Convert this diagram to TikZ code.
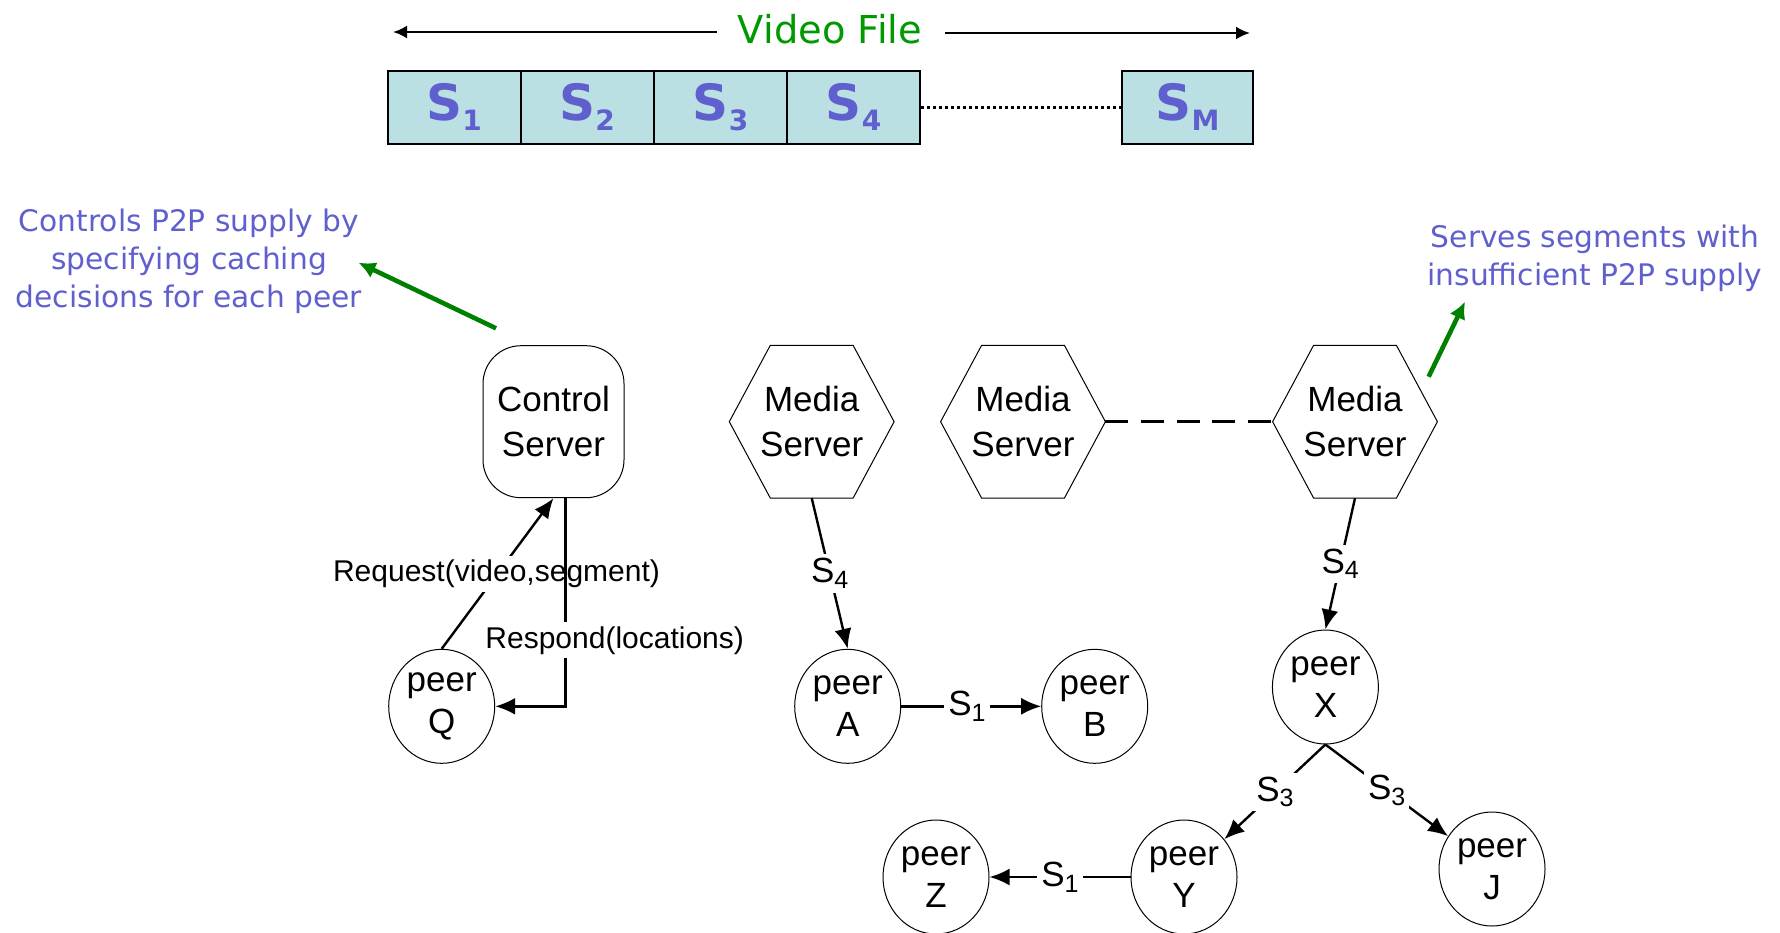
\documentclass[tikz,border=0pt]{standalone}
\usepackage{fontspec}
\setmainfont{Liberation Sans}
\newfontfamily\bluefont{DejaVu Sans}
\usetikzlibrary{shapes.geometric,arrows.meta,calc}

\definecolor{bluetxt}{RGB}{95,95,205}
\definecolor{greentxt}{RGB}{0,153,0}
\definecolor{greenarr}{RGB}{0,128,0}
\definecolor{segfill}{RGB}{187,224,227}

\newcommand\lowsub[1]{\raisebox{-0.32ex}{\fontsize{12.5pt}{12.5pt}\selectfont #1}}
\newcommand\segtxt[1]{{\bluefont\bfseries\fontsize{25pt}{25pt}\selectfont S\raisebox{-5pt}{\fontsize{14pt}{14pt}\selectfont #1}}}
\newcommand\hexdraw[1]{\draw[hexline] (#1.west) -- ([xshift=20.5pt]#1.north west) -- ([xshift=-20.5pt]#1.north east) -- (#1.east) -- ([xshift=-20.5pt]#1.south east) -- ([xshift=20.5pt]#1.south west) -- cycle;}

\begin{document}
\begin{tikzpicture}[x=0.5pt,y=-0.5pt,
  every node/.style={font=\fontsize{17.5pt}{21pt}\selectfont, inner sep=0pt},
  seg/.style={draw, line width=1pt, fill=segfill, minimum width=66.5pt, minimum height=36.5pt, text=bluetxt},
  peer/.style={ellipse, draw, line width=0.5pt, minimum width=53pt, minimum height=57pt, align=center},
  ctrl/.style={rectangle, draw, line width=0.5pt, rounded corners=19pt, minimum width=70.5pt, minimum height=76pt, align=center, font=\fontsize{17.5pt}{22.7pt}\selectfont},
  hexnode/.style={rectangle, minimum width=82pt, minimum height=76pt, align=center, font=\fontsize{17.5pt}{22.7pt}\selectfont},
  hexline/.style={draw, line width=0.5pt},
  arr/.style={line width=1.2pt, -{Latex[length=10pt,width=8.5pt]}},
  thinarr/.style={line width=1.2pt, -{Latex[length=7pt,width=6.5pt]}},
  garr/.style={line width=2.3pt, draw=greenarr, -{Latex[length=8.5pt,width=8.5pt]}},
  slbl/.style={fill=white, inner sep=2pt},
  msg/.style={fill=white, inner sep=2pt, font=\fontsize{15pt}{15pt}\selectfont},
  note/.style={text=bluetxt, align=center, font=\bluefont\fontsize{14.85pt}{18.9pt}\selectfont}
]
\useasboundingbox (0,0) rectangle (1780,932);

% video file bar
\node[text=greentxt, font=\bluefont\fontsize{19.2pt}{19.2pt}\selectfont] (vf) at (830,29) {Video File};
\coordinate (vfl) at (393,32);
\coordinate (vfr) at (1250,33);
\draw[thinarr] ([xshift=-10.5pt,yshift=-1.5pt]vf.west) -- (vfl);
\draw[thinarr] ([xshift=11.5pt,yshift=-2pt]vf.east) -- (vfr);

\node[seg] (s1) at (454.2,107) {\segtxt{1}};
\node[seg] (s2) at (587.2,107) {\segtxt{2}};
\node[seg] (s3) at (720.6,107) {\segtxt{3}};
\node[seg] (s4) at (853.6,107) {\segtxt{4}};
\node[seg, minimum width=65.5pt] (sm) at (1187.5,107) {\segtxt{M}};
\draw[line width=1.5pt, dash pattern=on 1.5pt off 1.5pt] (s4.east) -- (sm.west);

% annotations
\node[note] (n1) at (189,261.4) {Controls P2P supply by\\specifying caching\\decisions for each peer};
\node[note] (n2) at (1595,258) {Serves segments with\\insufficient P2P supply};
\coordinate (g1s) at (496,328.3);
\coordinate (g1e) at (358.5,262.7);
\coordinate (g2s) at (1428.6,376.7);
\coordinate (g2e) at (1465,301.7);
\draw[garr] (g1s) -- (g1e);
\draw[garr] (g2s) -- (g2e);

% servers
\node[ctrl] (cs) at (553.5,421.7) {Control\\Server};
\node[hexnode] (m1) at (811.7,421.7) {Media\\Server};
\node[hexnode] (m2) at (1023,421.7) {Media\\Server};
\node[hexnode] (m3) at (1355,421.7) {Media\\Server};
\hexdraw{m1}
\hexdraw{m2}
\hexdraw{m3}
\draw[line width=1.3pt, dash pattern=on 11.5pt off 6.3pt] (m2.east) -- (m3.west);

% peers
\node[peer] (q) at (441.7,706.3) {peer\\Q};
\node[peer] (a) at (847.7,706.3) {peer\\A};
\node[peer] (b) at (1094.7,706.3) {peer\\B};
\node[peer] (x) at (1325.4,687) {peer\\X};
\node[peer] (y) at (1184,877) {peer\\Y};
\node[peer] (z) at (936,877) {peer\\Z};
\node[peer] (j) at (1492,869) {peer\\J};

% control messages
\draw[arr] (q.north) -- (cs.south);
\node[msg] (req) at (496.5,573.7) {Request(video,segment)};
\draw[arr] ([xshift=6pt]cs.south) |- (q.east);
\node[msg] (resp) at (614.7,640.3) {Respond(locations)};

% media flows
\draw[arr] (m1.south) -- node[slbl] {S\lowsub{4}} (a.north);
\draw[arr] (a.east) -- node[slbl, pos=0.47] {S\lowsub{1}} (b.west);
\draw[arr] (m3.south) -- node[slbl] {S\lowsub{4}} (x.north);
\draw[arr] (x.south) -- node[slbl] {S\lowsub{3}} (y);
\draw[arr] (x.south) -- node[slbl] {S\lowsub{3}} (j);
\draw[arr] (y.west) -- node[slbl] {S\lowsub{1}} (z.east);
\end{tikzpicture}
\end{document}
